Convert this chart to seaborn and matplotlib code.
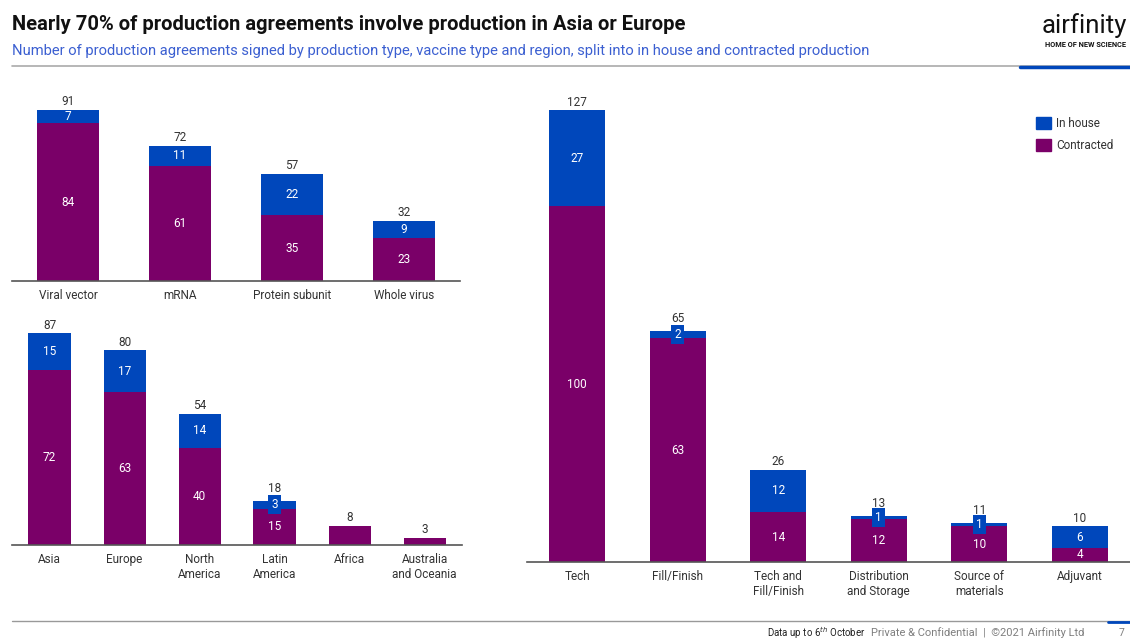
import matplotlib

matplotlib.use("Agg")
import matplotlib.pyplot as plt
import seaborn as sns
from matplotlib.lines import Line2D
from matplotlib.patches import Patch

BLUE = "#0047bb"
PURPLE = "#7a0068"
TEXT = "#333333"
GREY = "#7f7f7f"
SUB = "#3b5fd1"

# vaccine type
vaccine_types = ["Viral vector", "mRNA", "Protein subunit", "Whole virus"]
vaccine_in_house = [7, 11, 22, 9]
vaccine_contracted = [84, 61, 35, 23]

# region
regions = ["Asia", "Europe", "North\nAmerica", "Latin\nAmerica", "Africa", "Australia\nand Oceania"]
region_in_house = [15, 17, 14, 3, 0, 0]
region_contracted = [72, 63, 40, 15, 8, 3]

# production type
production_types = ["Tech", "Fill/Finish", "Tech and\nFill/Finish", "Distribution\nand Storage",
                    "Source of\nmaterials", "Adjuvant"]
production_in_house = [27, 2, 12, 1, 1, 6]
production_contracted = [100, 63, 14, 12, 10, 4]

W, H = 1130, 641
sns.set_theme(style="white")
plt.rcParams["font.family"] = ["Roboto", "DejaVu Sans"]

fig = plt.figure(figsize=(W / 100, H / 100), dpi=100, facecolor="white")


def px_axes(x0, x1, y_base, height):
    return fig.add_axes([x0 / W, (H - y_base) / H, (x1 - x0) / W, height / H])


def stacked(ax, cats, in_house, contracted, ymax, px_per_unit):
    totals = [a + b for a, b in zip(in_house, contracted)]
    sns.barplot(x=cats, y=totals, ax=ax, color=BLUE, width=0.56, linewidth=0, saturation=1)
    sns.barplot(x=cats, y=contracted, ax=ax, color=PURPLE, width=0.56, linewidth=0, saturation=1)
    ax.set_ylim(0, ymax)
    ax.set_xlim(-0.5, len(cats) - 0.5)
    ax.set_yticks([])
    for s in ["top", "right", "left"]:
        ax.spines[s].set_visible(False)
    ax.spines["bottom"].set_color("#555555")
    ax.spines["bottom"].set_linewidth(1.2)
    ax.tick_params(axis="x", colors=TEXT, labelsize=8.5, length=0, pad=6)
    ax.patch.set_alpha(0)
    for i, (ih, ct, tot) in enumerate(zip(in_house, contracted, totals)):
        small = 0 < ih * px_per_unit <= 10
        gap = 6 if small else 1.5
        ax.text(i, tot + gap / px_per_unit, str(tot), ha="center", va="bottom", color=TEXT, fontsize=8.5)
        if ct * px_per_unit > 10 and ih > 0:
            ax.text(i, ct / 2, str(ct), ha="center", va="center", color="white", fontsize=8.5)
        if ih > 0:
            y = ct + ih / 2
            if not small:
                ax.text(i, y, str(ih), ha="center", va="center", color="white", fontsize=8.5)
            else:
                ax.text(i, y, str(ih), ha="center", va="center", color="white", fontsize=8.5,
                        bbox=dict(boxstyle="square,pad=0.25", fc=BLUE, ec="none"))


ax1 = px_axes(12, 460, 281, 188)
stacked(ax1, vaccine_types, vaccine_in_house, vaccine_contracted, 100, 1.88)

ax2 = px_axes(12, 462, 545, 231)
stacked(ax2, regions, region_in_house, region_contracted, 95, 2.43)

ax3 = px_axes(527, 1130, 562, 480)
stacked(ax3, production_types, production_in_house, production_contracted, 135, 3.56)

ax3.legend(handles=[Patch(color=BLUE, label="In house"), Patch(color=PURPLE, label="Contracted")],
           loc="upper right", bbox_to_anchor=(0.985, 0.942), frameon=False, fontsize=8.5,
           labelcolor=TEXT, handlelength=1.2, handleheight=1.2, handletextpad=0.5,
           labelspacing=0.75, borderaxespad=0.2)

# header
fig.text(12 / W, 1 - 25 / H, "Nearly 70% of production agreements involve production in Asia or Europe",
         fontsize=14.5, fontweight="bold", color="#111111", va="center")
fig.text(12 / W, 1 - 51 / H,
         "Number of production agreements signed by production type, vaccine type and region, "
         "split into in house and contracted production",
         fontsize=10.6, color=SUB, va="center")
fig.text(1127 / W, 1 - 26 / H, "airfinity", fontsize=18.5, color="#111111", ha="right", va="center")
fig.text(1126 / W, 1 - 45 / H, "HOME OF NEW SCIENCE", fontsize=5.3, fontweight="bold",
         color="#111111", ha="right", va="center")
fig.add_artist(Line2D([12 / W, 1], [1 - 66 / H] * 2, color="#aaaaaa", lw=1.2))
fig.add_artist(Line2D([1020 / W, 1], [1 - 67 / H] * 2, color=BLUE, lw=2.5))

# footer
fig.add_artist(Line2D([12 / W, 1], [1 - 621 / H] * 2, color="#999999", lw=1))
fig.add_artist(Line2D([1108 / W, 1], [1 - 622 / H] * 2, color=BLUE, lw=2))
fig.text(866 / W, 1 - 633 / H, "Data up to 6$^{th}$ October", fontsize=7, color="#222222",
         ha="right", va="center")
fig.text(871 / W, 1 - 633 / H, "Private & Confidential  |  \u00a92021 Airfinity Ltd", fontsize=8,
         color=GREY, ha="left", va="center")
fig.text(1122 / W, 1 - 633 / H, "7", fontsize=7.5, color=GREY, ha="center", va="center")

fig.savefig("out.png", dpi=100, facecolor="white")
